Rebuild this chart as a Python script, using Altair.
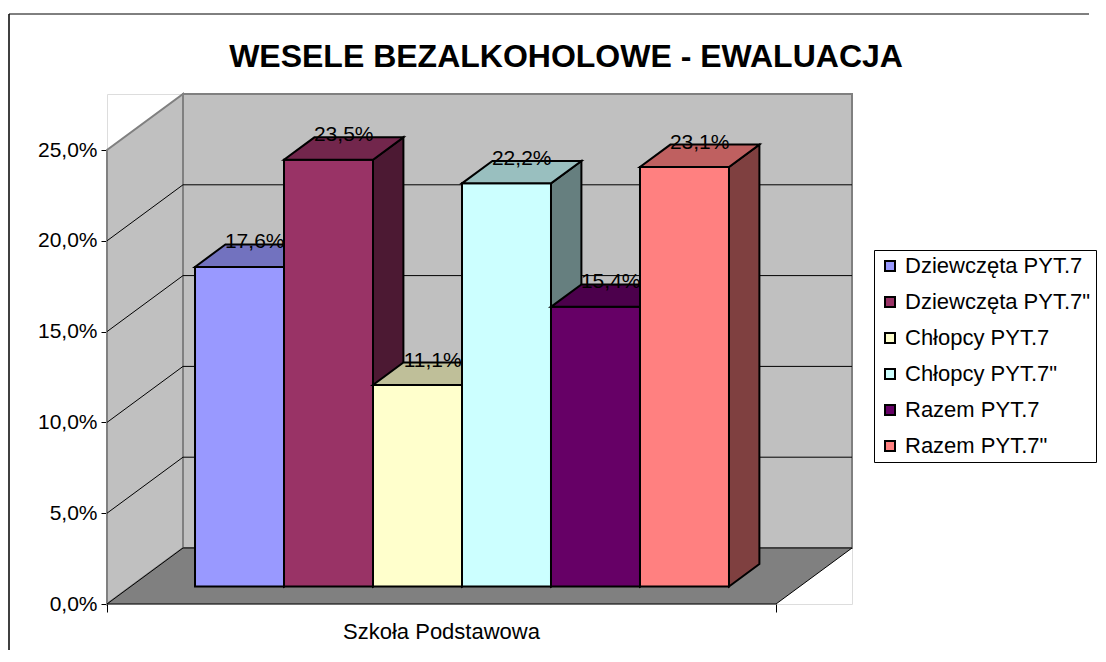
import altair as alt
import pandas as pd

# ---------------- data ----------------
SERIES = ["Dziewczęta PYT.7", 'Dziewczęta PYT.7"', "Chłopcy PYT.7",
          'Chłopcy PYT.7"', "Razem PYT.7", 'Razem PYT.7"']
VALUES = [0.176, 0.235, 0.111, 0.222, 0.154, 0.231]
COLORS = ["#9999FF", "#993366", "#FFFFCC", "#CCFFFF", "#660066", "#FF8080"]
CATEGORY = "Szkoła Podstawowa"
TITLE = "WESELE BEZALKOHOLOWE - EWALUACJA"
TICKS = [0.0, 0.05, 0.10, 0.15, 0.20, 0.25]

# ---------------- 3D geometry (in scale units) ----------------
DX = 0.854          # depth shift of the floor, x units
DY = 0.03084        # depth shift of the floor, value units
FLOOR_W = 7.517     # floor front width, x units
BAR_START = 0.722   # first bar's left edge on the floor
BAR_W = 1.0
F0 = 0.3125         # bars' front plane, fraction of depth
FD = 0.40           # bars' depth, fraction of depth
XMAX = FLOOR_W + DX
YMAX = TICKS[-1] + DY
W, H = 745, 510
FONT = "Liberation Sans"

xs = alt.Scale(domain=[0, XMAX], nice=False, zero=False)
ys = alt.Scale(domain=[0, YMAX], nice=False, zero=False)
x_axis = alt.Axis(values=[0, FLOOR_W], labels=False, tickSize=8, tickColor="black",
                  domain=False, grid=False, title=None)
y_axis = alt.Axis(values=TICKS, labelExpr="replace(format(datum.value, '.1%'), '.', ',')",
                  tickSize=6, tickColor="black", labelPadding=4, labelFontSize=21,
                  labelFont=FONT, labelColor="black", domain=False, grid=False, title=None)


def X(f="x"):
    return alt.X(f"{f}:Q", scale=xs, axis=x_axis)


def Y(f="y"):
    return alt.Y(f"{f}:Q", scale=ys, axis=y_axis, stack=None)


def shade(c, k):
    r, g, b = int(c[1:3], 16), int(c[3:5], 16), int(c[5:7], 16)
    return "#%02X%02X%02X" % (int(r * k), int(g * k), int(b * k))


one = pd.DataFrame({"a": [0]})

# back wall
back = alt.Chart(pd.DataFrame({"x": [DX], "x2": [XMAX], "y": [DY], "y2": [YMAX]})).mark_rect(
    fill="#C0C0C0", stroke="#808080", strokeWidth=2).encode(x=X(), x2="x2:Q", y=Y(), y2="y2:Q")

# side wall
side = alt.Chart(pd.DataFrame({"x": [0, DX], "y": [0, DY], "y2": [TICKS[-1], YMAX]})).mark_area(
    fill="#C0C0C0", stroke="#808080", strokeWidth=2, opacity=1).encode(x=X(), y=Y(), y2="y2:Q")

grid_vals = TICKS[1:-1]
grid_back = alt.Chart(pd.DataFrame({"x": [DX] * len(grid_vals), "x2": [XMAX] * len(grid_vals),
                                    "y": [v + DY for v in grid_vals]})).mark_rule(
    color="black", strokeWidth=1).encode(x=X(), x2="x2:Q", y=Y())
grid_side = alt.Chart(pd.DataFrame({"x": [0] * len(grid_vals), "x2": [DX] * len(grid_vals),
                                    "y": grid_vals, "y2": [v + DY for v in grid_vals]})).mark_rule(
    color="black", strokeWidth=1).encode(x=X(), x2="x2:Q", y=Y(), y2="y2:Q")

floor = alt.Chart(pd.DataFrame({"y": [0, DY], "x": [0, DX], "x2": [FLOOR_W, XMAX]})).mark_area(
    fill="#808080", stroke="black", strokeWidth=1, opacity=1, orient="horizontal").encode(
    y=Y(), x=X(), x2="x2:Q")

layers = [back, side, grid_back, grid_side, floor]

ddx, ddy = FD * DX, FD * DY
for i, (s, v, c) in enumerate(zip(SERIES, VALUES, COLORS)):
    L = BAR_START + i * BAR_W + F0 * DX
    R = L + BAR_W
    B = F0 * DY
    T = B + v
    rows = []
    for (px, py, py2) in [(L, B, T), (R, B, T)]:
        rows.append({"face": "front", "x": px, "y": py, "y2": py2, "fill": c})
    for (px, py, py2) in [(R, B, T), (R + ddx, B + ddy, T + ddy)]:
        rows.append({"face": "side", "x": px, "y": py, "y2": py2, "fill": shade(c, 0.5)})
    for (px, py, py2) in [(L, T, T), (L + ddx, T, T + ddy), (R, T, T + ddy), (R + ddx, T + ddy, T + ddy)]:
        rows.append({"face": "top", "x": px, "y": py, "y2": py2, "fill": shade(c, 0.75)})
    bar = alt.Chart(pd.DataFrame(rows)).mark_area(
        stroke="black", strokeWidth=2, opacity=1, strokeJoin="miter").encode(
        x=X(), y=Y(), y2="y2:Q", detail="face:N", fill=alt.Fill("fill:N", scale=None))
    lab = alt.Chart(pd.DataFrame({"x": [(L + R) / 2 + ddx / 2], "y": [T + ddy],
                                  "t": [f"{v * 100:.1f}%".replace(".", ",")]})).mark_text(
        font=FONT, fontSize=21, color="black", baseline="middle", align="center", dy=-2).encode(
        x=X(), y=Y(), text="t:N")
    layers += [bar, lab]

xlabel = alt.Chart(pd.DataFrame({"x": [FLOOR_W / 2], "y": [0], "t": [CATEGORY]})).mark_text(
    font=FONT, fontSize=22, color="black", baseline="middle", align="center", dy=28).encode(
    x=X(), y=Y(), text="t:N")

title = alt.Chart(pd.DataFrame({"t": [TITLE]})).mark_text(
    font=FONT, fontSize=32, fontWeight="bold", color="black", baseline="alphabetic",
    align="center").encode(x=alt.value(459), y=alt.value(-27), text="t:N")

frame_left = alt.Chart(one).mark_rule(color="#404040", strokeWidth=2).encode(
    x=alt.value(-98), y=alt.value(-80), y2=alt.value(556))
frame_top = alt.Chart(one).mark_rule(color="black", strokeWidth=1).encode(
    x=alt.value(-98), x2=alt.value(982), y=alt.value(-80))

legend_df = pd.DataFrame({"series": SERIES, "x": [BAR_START + i + 0.5 for i in range(len(SERIES))],
                          "y": [0.0] * len(SERIES)})
legend_layer = alt.Chart(legend_df).mark_square(opacity=0).encode(
    x=X(), y=Y(),
    color=alt.Color("series:N", scale=alt.Scale(domain=SERIES, range=COLORS), sort=SERIES,
                    legend=alt.Legend(orient="none", legendX=767, legendY=156, title=None,
                                      symbolType="square", symbolSize=100, symbolStrokeColor="black",
                                      symbolStrokeWidth=2, symbolOpacity=1,
                                      labelFont=FONT, labelFontSize=22, labelColor="black",
                                      labelLimit=400, labelOffset=4, rowPadding=14, padding=5,
                                      strokeColor="black", fillColor="white")))

layers += [xlabel, title, frame_left, frame_top, legend_layer]

chart = alt.layer(*layers).properties(
    width=W, height=H, padding={"left": 0, "top": 5, "right": 0, "bottom": 0}
).configure_view(stroke=None).configure(background="white")

chart.save("out.html", embed_options={"renderer": "svg", "actions": False})
